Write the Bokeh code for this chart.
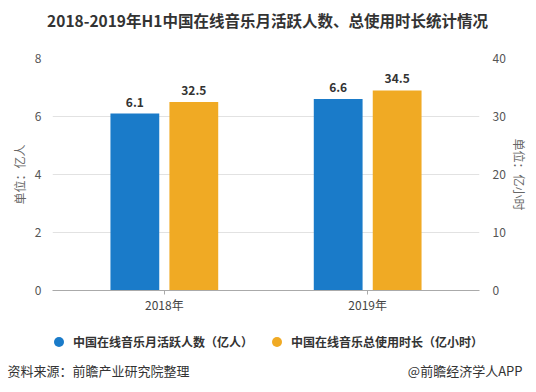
from bokeh.plotting import figure
from bokeh.models import (ColumnDataSource, FactorRange, Range1d, LinearAxis, Legend,
                          LegendItem, LabelSet, Label, FixedTicker)
from bokeh.core.properties import value
from bokeh.transform import dodge
from bokeh.embed import file_html
from bokeh.resources import INLINE

years = ["2018年", "2019年"]
mau = [6.1, 6.6]            # 中国在线音乐月活跃人数（亿人）
hours = [32.5, 34.5]        # 中国在线音乐总使用时长（亿小时）
left_ticks = [0, 2, 4, 6, 8]
right_ticks = [0, 10, 20, 30, 40]

title_text = "2018-2019年H1中国在线音乐月活跃人数、总使用时长统计情况"
series1 = "中国在线音乐月活跃人数（亿人）"
series2 = "中国在线音乐总使用时长（亿小时）"
source_text = "资料来源：前瞻产业研究院整理"
brand_text = "@前瞻经济学人APP"

FONT = "Noto Sans CJK SC"
BLUE = "#1a7bc9"
ORANGE = "#f0aa24"

W = 536
H_HEAD = 38
H_CHART = 280
H_FOOT = 74
ML, MR = 7, 6   # chart side margins


def blank(height):
    fig = figure(width=W, height=height, output_backend="svg", toolbar_location=None,
                 x_range=Range1d(0, W), y_range=Range1d(0, height),
                 min_border=0, min_border_left=0, min_border_right=0,
                 min_border_top=0, min_border_bottom=0)
    fig.axis.visible = False
    fig.grid.visible = False
    fig.outline_line_color = None
    return fig


# header: title
h = blank(H_HEAD)
h.add_layout(Label(x=267, y=19, x_units="screen", y_units="screen", text=title_text,
                   text_font=FONT, text_font_size="15.5px", text_font_style="bold",
                   text_color="#333333", text_align="center", text_baseline="middle"))

src = ColumnDataSource(dict(
    year=years, mau=mau, hours=hours,
    mau_t=[f"{v:.1f}" for v in mau], hours_t=[f"{v:.1f}" for v in hours],
))

p = figure(width=W - ML - MR, height=H_CHART, output_backend="svg", toolbar_location=None,
           x_range=FactorRange(factors=years, range_padding=0.05, range_padding_units="absolute"),
           y_range=Range1d(0, 8),
           min_border_left=48 - ML, min_border_right=51 - MR, min_border_top=20,
           min_border_bottom=28)
p.margin = (0, MR, 0, ML)
p.extra_y_ranges = {"right": Range1d(0, 40)}

p.outline_line_color = None
p.xgrid.grid_line_color = None
p.ygrid.grid_line_color = "#e2e2e2"
p.ygrid.ticker = FixedTicker(ticks=left_ticks)

p.vbar(x=dodge("year", -0.145, range=p.x_range), top="mau", width=0.24, source=src,
       fill_color=BLUE, line_color=None)
p.vbar(x=dodge("year", 0.145, range=p.x_range), top="hours", width=0.24, source=src,
       fill_color=ORANGE, line_color=None, y_range_name="right")

lbl_common = dict(text_font=value(FONT), text_font_size="12px", text_font_style="bold",
                  text_color="#333333", text_align="center", text_baseline="bottom", y_offset=7)
p.add_layout(LabelSet(x=dodge("year", -0.145, range=p.x_range), y="mau", text="mau_t",
                      source=src, **lbl_common))
p.add_layout(LabelSet(x=dodge("year", 0.145, range=p.x_range), y="hours", text="hours_t",
                      source=src, y_range_name="right", **lbl_common))

# axes
ya = p.yaxis[0]
ya.ticker = FixedTicker(ticks=left_ticks)
ya.axis_label = "单位：亿人"
ya.axis_line_color = None
ya.major_tick_line_color = None
ya.minor_tick_line_color = None
ya.major_label_standoff = 5
ya.axis_label_standoff = 4

ra = LinearAxis(y_range_name="right", ticker=FixedTicker(ticks=right_ticks),
                axis_label="单位：亿小时")
ra.axis_line_color = None
ra.major_tick_line_color = None
ra.minor_tick_line_color = None
ra.major_label_standoff = 7
ra.axis_label_standoff = 2
p.add_layout(ra, "right")

for ax in (ya, ra):
    ax.major_label_text_font = FONT
    ax.major_label_text_font_size = "12px"
    ax.major_label_text_color = "#555555"
    ax.axis_label_text_font = FONT
    ax.axis_label_text_font_size = "12px"
    ax.axis_label_text_font_style = "normal"
    ax.axis_label_text_color = "#666666"

xa = p.xaxis[0]
xa.axis_line_color = "#aaaaaa"
xa.major_tick_line_color = "#aaaaaa"
xa.major_tick_out = 4
xa.major_tick_in = 0
xa.minor_tick_line_color = None
xa.major_label_standoff = 1
xa.major_label_text_font = FONT
xa.major_label_text_font_size = "12px"
xa.major_label_text_color = "#444444"

# footer: legend + source line
f = blank(H_FOOT)
nan = float("nan")
m1 = f.scatter(x=[nan], y=[nan], marker="circle", size=12, fill_color=BLUE, line_color=None)
m2 = f.scatter(x=[nan], y=[nan], marker="circle", size=12, fill_color=ORANGE, line_color=None)
legend = Legend(items=[LegendItem(label=series1, renderers=[m1]),
                       LegendItem(label=series2, renderers=[m2])],
                orientation="horizontal", location=(46, 38),
                label_text_font=FONT, label_text_font_size="12px", label_text_font_style="bold",
                label_text_color="#333333", glyph_width=25, glyph_height=25, label_standoff=2,
                spacing=11, border_line_color=None, background_fill_alpha=0, margin=0,
                padding=10)
f.add_layout(legend, "center")

f.add_layout(Label(x=7, y=22, x_units="screen", y_units="screen", text=source_text,
                   text_font=FONT, text_font_size="13px", text_color="#333333",
                   text_align="left", text_baseline="middle"))
f.add_layout(Label(x=522, y=22, x_units="screen", y_units="screen", text=brand_text,
                   text_font=FONT, text_font_size="13px", text_color="#333333",
                   text_align="right", text_baseline="middle"))

open("out.html", "w").write(file_html([h, p, f], INLINE))
